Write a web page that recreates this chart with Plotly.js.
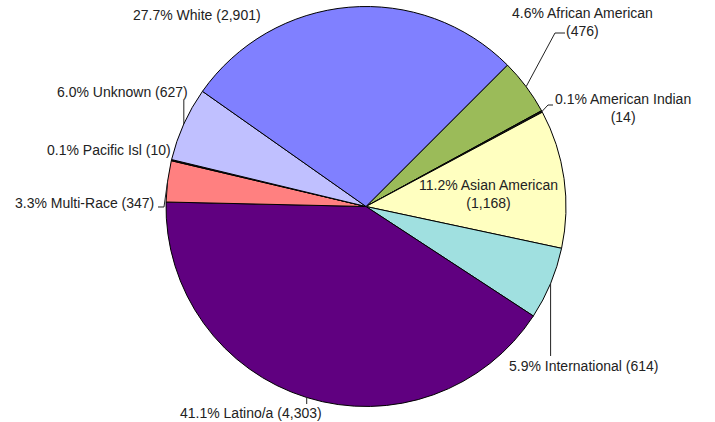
<!DOCTYPE html>
<html>
<head>
<meta charset="utf-8">
<script src="https://cdn.plot.ly/plotly-3.0.1.min.js"></script>
<style>html,body{margin:0;padding:0;background:#fff;}#chart{width:715px;height:422px;}</style>
</head>
<body>
<div id="chart"></div>
<script>
// ---- data ----
var categories = ["African American", "American Indian", "Asian American", "International",
                  "Latino/a", "Multi-Race", "Pacific Isl", "Unknown", "White"];
var counts = [476, 14, 1168, 614, 4303, 347, 10, 627, 2901];
var colors = ["#9BBB59", "#1a1a1a", "#FFFFC0", "#A0E0E0", "#600080", "#FF8080", "#1a1a1a", "#C0C0FF", "#8080FF"];

// ---- layout / style (pixel geometry) ----
var W = 715, H = 422;
var CX = 366, CY = 206.5, R = 200, ROT = 45;
// label centre, line-break flag, leader line elbow points (after the slice edge point)
var labelStyle = [
  {pos: [582, 22], br: true,  leader: [[555, 33], [565, 33]]},
  {pos: [623, 108], br: true, leader: [[548, 105], [553, 105]]},
  {pos: [488, 194], br: true, leader: null},
  {pos: [583, 366], br: false, leader: "down:356"},
  {pos: [251, 413], br: false, leader: "down:404"},
  {pos: [84, 203], br: false, leader: [[164, 207], [158, 207]]},
  {pos: [109, 150], br: false, leader: null},
  {pos: [123, 92], br: false, leader: "up:100"},
  {pos: [197, 15], br: false, leader: null}
];

function px(x) { return x / W; }
function py(y) { return 1 - y / H; }

var total = counts.reduce(function (a, b) { return a + b; }, 0);
var annotations = [], shapes = [];
var cum = 0;
counts.forEach(function (v, i) {
  var mid = (ROT + (cum + v / 2) / total * 360) * Math.PI / 180;
  cum += v;
  var ex = CX + R * Math.sin(mid), ey = CY - R * Math.cos(mid);
  var pct = (v / total * 100).toFixed(1) + "% " + categories[i];
  var num = "(" + v.toLocaleString("en-US") + ")";
  var st = labelStyle[i];
  annotations.push({
    xref: "paper", yref: "paper", x: px(st.pos[0]), y: py(st.pos[1]),
    text: pct + (st.br ? "<br>" : " ") + num, showarrow: false,
    xanchor: "center", yanchor: "middle",
    font: {family: "Liberation Sans, Arial, sans-serif", size: 14, color: "#222"}
  });
  if (st.leader) {
    var pts = [[ex, ey]];
    if (typeof st.leader === "string") {
      var yy = parseFloat(st.leader.split(":")[1]);
      pts.push([ex, yy]);
    } else {
      pts = pts.concat(st.leader);
    }
    var d = pts.map(function (p, k) { return (k ? "L" : "M") + px(p[0]).toFixed(5) + "," + py(p[1]).toFixed(5); }).join(" ");
    shapes.push({type: "path", xref: "paper", yref: "paper", path: d,
                 line: {color: "#222", width: 1}});
  }
});

var trace = {
  type: "pie",
  labels: categories,
  values: counts,
  sort: false,
  direction: "clockwise",
  rotation: ROT,
  textinfo: "none",
  hoverinfo: "label+value+percent",
  marker: {colors: colors, line: {color: "#000", width: 1}},
  domain: {x: [px(CX - R), px(CX + R)], y: [py(CY + R), py(CY - R)]},
  showlegend: false
};

var layout = {
  width: W, height: H,
  margin: {l: 0, r: 0, t: 0, b: 0},
  paper_bgcolor: "#fff",
  showlegend: false,
  annotations: annotations,
  shapes: shapes
};

Plotly.newPlot("chart", [trace], layout, {displayModeBar: false, staticPlot: true});
</script>
</body>
</html>
